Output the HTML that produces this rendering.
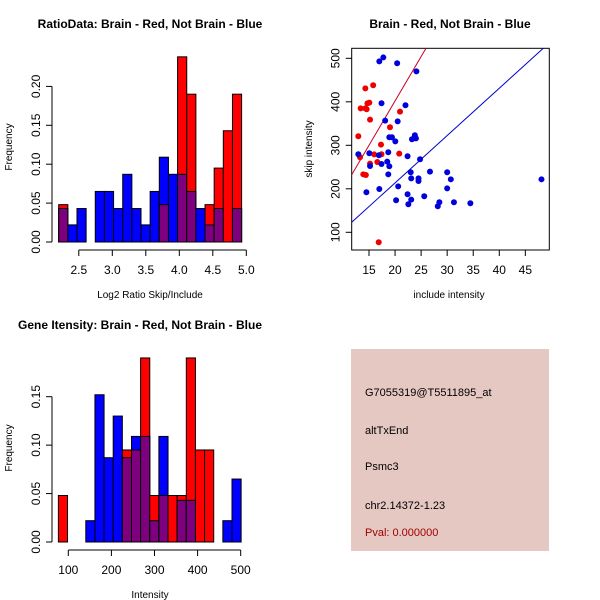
<!DOCTYPE html>
<html><head><meta charset="utf-8"><style>
html,body{margin:0;padding:0;background:#fff;}
svg{display:block;font-family:"Liberation Sans",Arial,sans-serif;}
</style></head><body>
<svg id="chart" width="600" height="600" viewBox="0 0 600 600">
<rect x="351" y="349" width="198" height="202" fill="#e6c8c2"/>
<g font-size="11">
<text x="365" y="396">G7055319@T5511895_at</text>
<text x="365" y="434">altTxEnd</text>
<text x="365" y="470">Psmc3</text>
<text x="365" y="509">chr2.14372-1.23</text>
<text x="365" y="536" fill="#a00000">Pval: 0.000000</text>
</g>
</svg>
<script>
// ---- Histogram 1 data (log2 ratio) ----
const h1Start = 2.2;
const h1Width = 0.1365;
const h1Blue = [0.043,0.022,0.043,0,0.065,0.065,0.043,0.087,0.043,0.022,0.065,0.109,0.087,0.087,0.065,0.043,0.022,0.043,0,0.043];
const h1Red  = [0.048,0,0,0,0,0,0,0,0,0,0,0.048,0,0.238,0.190,0,0.048,0.095,0.143,0.190];
const h1XTicks = [2.5,3.0,3.5,4.0,4.5,5.0];
const h1YTicks = [0,0.05,0.10,0.15,0.20];
// ---- Histogram 2 data (intensity) ----
const h2Start = 77;
const h2Width = 21.2;
const h2Blue = [0,0,0,0.022,0.152,0.087,0.130,0.087,0.109,0.109,0.022,0.109,0,0.043,0.043,0,0,0,0.022,0.065];
const h2Red  = [0.048,0,0,0,0,0,0,0.095,0.095,0.190,0.048,0.048,0.048,0.048,0.190,0.095,0.095,0,0,0];
const h2XTicks = [100,200,300,400,500];
const h2YTicks = [0,0.05,0.10,0.15];
// ---- Scatter data ----
const redX = [12.95,13.27,13.4,13.9,14.4,14.3,14.3,14.55,14.7,15.06,15.2,15.2,15.8,16,16.6,17.3,17.4,19.03,20.95,20.8,16.86];
const redY = [320.7,272.4,385,233.3,231.8,431,385,382.8,396.5,398,359,258,438,279,261.7,301.5,279.3,341.4,377.4,280.8,77];
const blueX = [12.95,15.06,15.2,16.9,16.98,17.75,20.4,24.1,17.4,22,18.1,20.5,18.9,19.4,20.05,23.8,24,23.25,18.7,18.5,17.4,18.9,22.4,24.8,18.7,16.98,14.5,20.6,23,23.1,24.5,24.5,26.7,30,30.7,30,22.4,25.6,20.2,23.1,22.55,28.5,28.2,31.3,34.45,48.1];
const blueY = [279.3,281.6,252.5,277,493,502,488.5,470,396.6,392,356.7,355,318.4,318.4,309,323,316,313.8,284,262.5,257,251.7,274.7,267.8,233.3,199.6,192,205.7,238,224,224,218,239.5,238,221.8,201,187.4,182.8,173.6,175,164.4,169,159.8,169,166.7,221.8];
const lineSlopes = [20.4,10.88];
const lineIntercepts = [-6,-4];
const scXTicks = [15,20,25,30,35,40,45];
const scYTicks = [100,200,300,400,500];

const svg = document.getElementById('chart');
const NS = 'http://www.w3.org/2000/svg';
function mk(tag, attrs, parent){const e=document.createElementNS(NS,tag);for(const k in attrs)e.setAttribute(k,attrs[k]);(parent||svg).appendChild(e);return e;}
function txt(s,x,y,attrs,parent){const t=mk('text',Object.assign({x:x,y:y},attrs),parent);t.textContent=s;return t;}
function fmt(v,d){return v.toFixed(d);}

function histogram(name, start, width, blue, red, xTicks, yTicks, sx, sy, xdec, ydec, axisY){
  const g=mk('g',{});
  
  
  for(let i=0;i<blue.length;i++){
    const x0=sx(start+i*width), x1=sx(start+(i+1)*width);
    const b=blue[i], r=red[i], m=Math.min(b,r);
    if(b>0){const e=mk('rect',{x:x0,y:sy(b),width:x1-x0,height:sy(0)-sy(b),fill:'#0000ff',stroke:'#000','stroke-width':1},g);
      
      }
    if(r>0){const e=mk('rect',{x:x0,y:sy(r),width:x1-x0,height:sy(0)-sy(r),fill:'#ff0000',stroke:'#000','stroke-width':1},g);
      
      }
    if(m>0){const e=mk('rect',{x:x0,y:sy(m),width:x1-x0,height:sy(0)-sy(m),fill:'#7f007f',stroke:'#000','stroke-width':1},g);
      
      }
  }
  const xa=mk('g',{stroke:'#000','stroke-width':1},g);
  
  
  mk('line',{x1:sx(xTicks[0]),x2:sx(xTicks[xTicks.length-1]),y1:axisY,y2:axisY},xa);
  xTicks.forEach(v=>{mk('line',{x1:sx(v),x2:sx(v),y1:axisY,y2:axisY+6},xa);
    const t=txt(fmt(v,xdec),sx(v),axisY+24,{'font-size':12,'text-anchor':'middle',stroke:'none'},g);
    
    });
  const ya=mk('g',{stroke:'#000','stroke-width':1},g);
  
  
  const ax=52;
  mk('line',{x1:ax,x2:ax,y1:sy(yTicks[0]),y2:sy(yTicks[yTicks.length-1])},ya);
  yTicks.forEach(v=>{mk('line',{x1:ax-6,x2:ax,y1:sy(v),y2:sy(v)},ya);
    const t=txt(fmt(v,ydec),0,0,{'font-size':12,'text-anchor':'middle',transform:`translate(${ax-12},${sy(v)}) rotate(-90)`},g);
    
    });
}

histogram('ratio-histogram',h1Start,h1Width,h1Blue,h1Red,h1XTicks,h1YTicks,
  v=>58.7+(v-2.2)*67.0, v=>242-v*778, 1, 2, 250);
histogram('intensity-histogram',h2Start,h2Width,h2Blue,h2Red,h2XTicks,h2YTicks,
  v=>68.3+(v-100)*0.431, v=>542-v*968.7, 0, 2, 550);

[['ratio-title',150,28,'RatioData: Brain - Red, Not Brain - Blue'],
 ['scatter-title',450,28,'Brain - Red, Not Brain - Blue'],
 ['intensity-title',140,329,'Gene Itensity: Brain - Red, Not Brain - Blue']].forEach(a=>{
  const t=txt(a[3],a[1],a[2],{'font-size':12,'font-weight':'bold','text-anchor':'middle'});
  
  });
[['ratio-x-title',150,298,'Log2 Ratio Skip/Include'],
 ['scatter-x-title',449,298,'include intensity'],
 ['intensity-x-title',150,598,'Intensity']].forEach(a=>{
  const t=txt(a[3],a[1],a[2],{'font-size':10,'text-anchor':'middle'});
  
  });
[['ratio-y-title',12,147,'Frequency'],['scatter-y-title',312,149,'skip intensity'],['intensity-y-title',12,448,'Frequency']].forEach(a=>{
  const t=txt(a[3],0,0,{'font-size':10,'text-anchor':'middle',transform:`translate(${a[1]},${a[2]}) rotate(-90)`});
  
  });

const xMin=11.68,xMax=49.6,yMin=59.3,yMax=523;
const L=351.7,R=549.3,T=48.3,B=250;
const sx=v=>L+(v-xMin)/(xMax-xMin)*(R-L);
const sy=v=>B-(v-yMin)/(yMax-yMin)*(B-T);
const sg=mk('g',{});


const clip=mk('clipPath',{id:'scclip'},sg);
mk('rect',{x:L,y:T,width:R-L,height:B-T},clip);
const box=mk('rect',{x:L,y:T,width:R-L,height:B-T,fill:'none',stroke:'#000'},sg);


const lineColors=['#cc0022','#0000cc'];
lineSlopes.forEach((s,i)=>{
  const l=mk('line',{x1:sx(xMin),y1:sy(lineIntercepts[i]+s*xMin),x2:sx(xMax),y2:sy(lineIntercepts[i]+s*xMax),stroke:lineColors[i],'stroke-width':1,'clip-path':'url(#scclip)'},sg);
  
  
});
redX.forEach((x,i)=>{const c=mk('circle',{cx:sx(x),cy:sy(redY[i]),r:3,fill:'#ee0000'},sg);
  
  });
blueX.forEach((x,i)=>{const c=mk('circle',{cx:sx(x),cy:sy(blueY[i]),r:3,fill:'#0000dd'},sg);
  
  });
scXTicks.forEach(v=>{mk('line',{x1:sx(v),x2:sx(v),y1:B,y2:B+6,stroke:'#000'},sg);
  const t=txt(String(v),sx(v),B+24,{'font-size':12,'text-anchor':'middle'},sg);
  
  });
scYTicks.forEach(v=>{mk('line',{x1:L-6,x2:L,y1:sy(v),y2:sy(v),stroke:'#000'},sg);
  const t=txt(String(v),0,0,{'font-size':12,'text-anchor':'middle',transform:`translate(${L-12},${sy(v)}) rotate(-90)`},sg);
  
  });
</script>
</body></html>
